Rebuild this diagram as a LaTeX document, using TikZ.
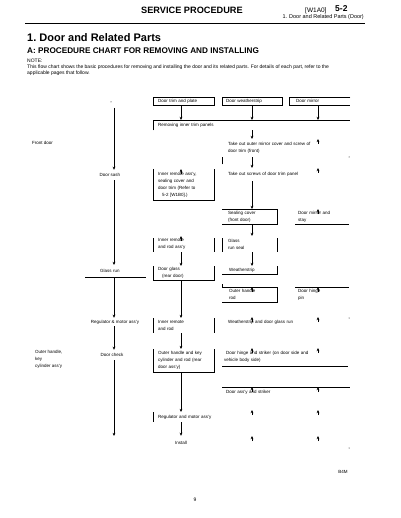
\documentclass[tikz,border=0pt]{standalone}
\usepackage{fontspec}
\setmainfont{Liberation Sans}
\usetikzlibrary{arrows.meta,calc}
\newcommand\chartfont{\fontsize{4.5}{7}\selectfont}
\begin{document}
\begin{tikzpicture}[x=1pt,y=-1pt,
  every node/.style={inner sep=0pt,font=\chartfont},
  arr/.style={-{Stealth[length=3.2pt,width=2.8pt]},line width=0.8pt},
  edge/.style={line width=0.8pt},
  box/.style={anchor=north west,inner xsep=5pt,inner ysep=0pt,align=left},
  lbl/.style={anchor=west,align=left},
  onl/.style={minimum height=10pt,align=center},
  dot/.style={fill=black}
]
\useasboundingbox (0,0) rectangle (400,518);
% header
\node[font=\fontsize{9.2}{10}\selectfont\bfseries] (hdr) at (192,10) {SERVICE PROCEDURE};
\node[lbl,font=\fontsize{6.5}{7}\selectfont] (code) at (305,11) {[W1A0]};
\node[lbl,font=\fontsize{8.5}{9}\selectfont\bfseries] (pg) at (335,9) {5-2};
\node[anchor=east,font=\fontsize{5.5}{6}\selectfont] (sub) at (364,17) {1. Door and Related Parts (Door)};
\coordinate (rl) at (25,23.5);
\coordinate (rr) at (365,23.5);
\draw[line width=0.8pt] (rl) -- (rr);
% titles
\node[lbl,font=\fontsize{11}{12}\selectfont\bfseries] (t1) at (27,38) {1.\ Door and Related Parts};
\node[lbl,font=\fontsize{8.2}{9}\selectfont\bfseries] (t2) at (27,51) {A: PROCEDURE CHART FOR REMOVING AND INSTALLING};
\node[lbl,font=\fontsize{5}{6}\selectfont] (note) at (27,61) {NOTE:};
\node[lbl,font=\fontsize{5}{6}\selectfont] (n1l) at (27,67) {This flow chart shows the basic procedures for removing and installing the door and its related parts. For details of each part, refer to the};
\node[lbl,font=\fontsize{5}{6}\selectfont] (n2l) at (27,73) {applicable pages that follow.};
% column coordinates
\coordinate (k0) at (114,0);
\coordinate (k1) at (181,0);
\coordinate (k2) at (252,0);
\coordinate (k3) at (318,0);
% top boxes
\node[box,text width=51pt,minimum height=8pt] (b1) at (153,97) {Door trim and plate};
\node[box,inner xsep=4pt,text width=52pt,minimum height=8pt] (b2) at (222,97) {Door weatherstrip};
\node[box,inner xsep=7pt,text width=47pt,minimum height=8pt] (b3) at (289,97) {Door mirror};
\draw[edge] (b1.north west) rectangle (b1.south east);
\draw[edge] (b2.north west) rectangle (b2.south east);
\draw[edge] (b3.north east) -- (b3.north west) -- (b3.south west) -- (b3.south east);
\node[box,text width=187pt,minimum height=10pt] (r1) at (153,120) {Removing inner trim panels};
\draw[edge] (r1.south west) -- (r1.north west) -- (r1.north east);
\draw[arr] (b1.south -| k1) -- (r1.north -| k1);
\draw[arr] (b2.south -| k2) -- (r1.north -| k2);
\draw[arr] (b3.south -| k3) -- (r1.north -| k3);
% left column
\coordinate (ltop) at (114,108);
\node[lbl] (lf) at (32,143) {Front door};
\node[onl] (n1) at (110,175) {Door sash};
\node[box,inner xsep=15pt,text width=31pt,minimum height=12pt] (n2) at (85,265) {Glass run};
\draw[edge] (n2.south west) -- (n2.south east);
\node[onl,minimum height=8pt] (n3) at (115,322) {Regulator \& motor ass'y};
\node[onl] (n4) at (112,355) {Door check};
\node[lbl] (lk1) at (35,352) {Outer handle,};
\node[lbl] (lk2) at (35,359) {key};
\node[lbl] (lk3) at (35,366) {cylinder ass'y};
\coordinate (lend) at (114,436);
\draw[arr] (ltop) -- (n1.north -| k0);
\draw[arr] (n1.south -| k0) -- (n2.north -| k0);
\draw[arr] (n2.south -| k0) -- (n3.north -| k0);
\draw[arr] (n3.south -| k0) -- (n4.north -| k0);
\draw[arr] (n4.south -| k0) -- (lend);
% column 2 (x=181)
\node[box,text width=51pt,minimum height=31pt] (c1) at (153,169) {Inner remote ass'y,\\sealing cover and\\door trim (Refer to\\\hspace{4pt}5-2 [W1B0].)};
\draw[edge] (c1.north west) -- (c1.south west) -- (c1.south east) -- (c1.north east);
\node[box,text width=51pt,minimum height=16pt] (c2) at (153,236) {Inner remote\\and rod ass'y};
\draw[edge] ([yshift=-2pt]c2.north west) -- (c2.south west);
\draw[edge] ([yshift=-2pt]c2.north east) -- (c2.south east);
\node[box,text width=51pt,minimum height=14pt] (c3) at (153,266) {Door glass\\\hspace{4pt}(rear door)};
\draw[edge] (c3.north west) -- (c3.south west) -- (c3.south east) -- (c3.north east);
\node[box,text width=51pt,minimum height=15pt] (c4) at (153,318) {Inner remote\\and rod};
\draw[edge] (c4.north west) -- (c4.south west);
\draw[edge] (c4.north east) -- (c4.south east);
\node[box,text width=51pt,minimum height=23pt] (c5) at (153,349) {Outer handle and key\\cylinder and rod (rear\\door ass'y)};
\draw[edge] (c5.north west) -- (c5.south west) -- (c5.south east) -- (c5.north east);
\node[box,text width=62pt,minimum height=10pt] (c6) at (153,412) {Regulator and motor ass'y};
\draw[edge] (c6.north west) -- (c6.south west);
\node[minimum height=14pt] (c7) at (181,443) {Install};
\draw[arr] ([yshift=-5pt]c1.north -| k1) -- (c1.north -| k1);
\draw[arr] ([yshift=-5pt]c2.north -| k1) -- (c2.north -| k1);
\draw[arr] (c2.south -| k1) -- (c3.north -| k1);
\draw[arr] (c3.south -| k1) -- (c4.north -| k1);
\draw[arr] (c4.south -| k1) -- (c5.north -| k1);
\draw[arr] (c5.south -| k1) -- (c6.north -| k1);
\draw[arr] (c6.south -| k1) -- (c7.north -| k1);
% column 3 (x=252)
\node[box,inner xsep=6pt,text width=116pt,minimum height=18pt] (d1) at (222,139) {Take out outer mirror cover and screw of\\door trim (front)};
\draw[edge] ([yshift=-7pt]d1.south west) -- (d1.south west);
\node[box,inner xsep=6pt,text width=116pt,minimum height=13pt] (d2) at (222,168) {Take out screws of door trim panel};
\node[box,inner xsep=6pt,text width=43pt,minimum height=15pt] (d3) at (222,209) {Sealing cover\\(front door)};
\draw[edge] (d3.north west) -- (d3.north east) -- (d3.south east) -- (d3.south west);
\node[box,inner xsep=6pt,text width=43pt,minimum height=16pt] (d4) at (222,236) {Glass\\run seal};
\draw[edge] ([yshift=-2pt]d4.north west) -- (d4.south west);
\draw[edge] ([yshift=-2pt]d4.north east) -- (d4.south east);
\node[box,inner xsep=7pt,text width=41pt,minimum height=8pt] (d5) at (222,266) {Weatherstrip};
\draw[edge] (d5.north east) -- (d5.south east) -- (d5.south west);
\node[box,inner xsep=7pt,text width=41pt,minimum height=15pt] (d6) at (222,287) {Outer handle\\rod};
\draw[edge] ([yshift=3pt]d6.north west) -- (d6.north west) -- (d6.north east) -- (d6.south east) -- (d6.south west);
\node[box,inner xsep=6pt,text width=116pt,minimum height=10pt] (d7) at (222,317) {Weatherstrip and door glass run};
\node[box,inner xsep=2pt,text width=122pt,minimum height=18pt] (d8) at (222,348) {\hspace{2pt}Door hinge and striker (on door side and\\vehicle body side)};
\draw[edge] (d8.south west) -- (d8.south east);
\node[box,inner xsep=4pt,text width=120pt,minimum height=10pt] (d9) at (222,387) {Door ass'y and striker};
\draw[edge] (d9.north west) -- (d9.north east);
\draw[arr] (r1.south -| k2) -- (d1.north -| k2);
\draw[arr] (d1.south -| k2) -- (d2.north -| k2);
\draw[arr] (d2.south -| k2) -- (d3.north -| k2);
\draw[arr] (d3.south -| k2) -- (d4.north -| k2);
\draw[arr] (d4.south -| k2) -- (d5.north -| k2);
\draw[arr] ([yshift=-5pt]d6.north -| k2) -- (d6.north -| k2);
\draw[arr] ([yshift=-5pt]d7.north -| k2) -- (d7.north -| k2);
\draw[arr] ([yshift=-5pt]d8.north -| k2) -- (d8.north -| k2);
\draw[arr] ([yshift=-5pt]d9.north -| k2) -- (d9.north -| k2);
\coordinate (p1) at (252,410);
\coordinate (p2) at (252,436);
\draw[arr] ([yshift=-5pt]p1) -- (p1);
\draw[arr] ([yshift=-5pt]p2) -- (p2);
% column 4 (x=318)
\node[box,inner xsep=3pt,text width=48pt,minimum height=15pt] (e1) at (295,209) {Door mirror and\\stay};
\draw[edge] (e1.south west) -- (e1.south east);
\node[box,inner xsep=3pt,text width=48pt,minimum height=15pt] (e2) at (295,287) {Door hinge\\pin};
\draw[edge] (e2.north west) -- (e2.north east);
\draw[arr] ([yshift=-5pt]d1.north -| k3) -- (d1.north -| k3);
\draw[arr] ([yshift=-5pt]d2.north -| k3) -- (d2.north -| k3);
\draw[arr] ([yshift=-5pt]e1.north -| k3) -- (e1.north -| k3);
\draw[arr] ([yshift=-5pt]e2.north -| k3) -- (e2.north -| k3);
\draw[arr] ([yshift=-5pt]d7.north -| k3) -- (d7.north -| k3);
\draw[arr] ([yshift=-5pt]d8.north -| k3) -- (d8.north -| k3);
\draw[arr] ([yshift=-5pt]d9.north -| k3) -- (d9.north -| k3);
\coordinate (q1) at (318,410);
\coordinate (q2) at (318,436);
\draw[arr] ([yshift=-5pt]q1) -- (q1);
\draw[arr] ([yshift=-5pt]q2) -- (q2);
% specks
\fill[dot] (111,102) circle (0.5);
\fill[dot] (349,157) circle (0.5);
\fill[dot] (349,318) circle (0.5);
\fill[dot] (349,448) circle (0.5);
% footer
\node[font=\fontsize{4.5}{5}\selectfont] (code2) at (343,472) {B4M};
\node[font=\fontsize{5}{6}\selectfont] (pno) at (195,500) {9};
\end{tikzpicture}
\end{document}
